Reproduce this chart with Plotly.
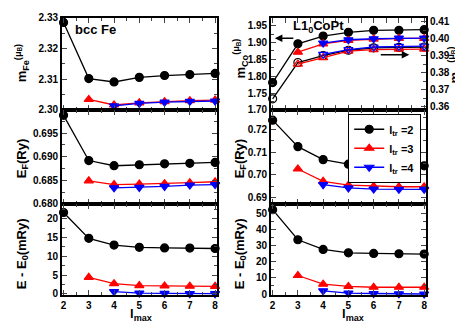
import plotly.graph_objects as go

lmax2 = [2, 3, 4, 5, 6, 7, 8]
lmax3 = [3, 4, 5, 6, 7, 8]
lmax4 = [4, 5, 6, 7, 8]

# bcc Fe
fe_m2 = [2.3285, 2.3102, 2.3091, 2.3106, 2.3112, 2.3115, 2.3119]
fe_m3 = [2.3034, 2.3016, 2.3023, 2.3027, 2.3030, 2.3032]
fe_m4 = [2.3013, 2.3021, 2.3025, 2.3028, 2.3029]
fe_ef2 = [0.6988, 0.6892, 0.6881, 0.6883, 0.6885, 0.6886, 0.6888]
fe_ef3 = [0.6849, 0.6841, 0.6842, 0.6843, 0.6845, 0.6847]
fe_ef4 = [0.6834, 0.6835, 0.6837, 0.6840, 0.6841]
fe_de2 = [21.7, 14.8, 13.0, 12.4, 12.25, 12.2, 12.1]
fe_de3 = [4.4, 2.7, 2.2, 2.1, 2.05, 2.0]
fe_de4 = [0.6, 0.2, 0.1, 0.05, 0.05]

# L1_0 CoPt
co_m2 = [1.781, 1.896, 1.919, 1.930, 1.936, 1.936, 1.938]
co_m3 = [1.871, 1.896, 1.906, 1.910, 1.912, 1.912]
co_m4 = [1.898, 1.908, 1.911, 1.913, 1.913]
pt_m2 = [0.3648, 0.3861, 0.3902, 0.3933, 0.3947, 0.3950, 0.3952]
pt_m3 = [0.3852, 0.3890, 0.3928, 0.3937, 0.3940, 0.3940]
pt_m4 = [0.3909, 0.3937, 0.3952, 0.3956, 0.3957]
cp_ef2 = [0.7240, 0.7124, 0.7067, 0.7047, 0.7041, 0.7040, 0.7040]
cp_ef3 = [0.7026, 0.6972, 0.6955, 0.6950, 0.6948, 0.6948]
cp_ef4 = [0.6957, 0.6943, 0.6938, 0.6937, 0.6937]
cp_de2 = [52.4, 33.7, 27.7, 25.6, 25.2, 25.0, 24.8]
cp_de3 = [11.5, 6.1, 4.7, 4.2, 4.2, 4.2]
cp_de4 = [2.0, 0.6, 0.3, 0.1, 0.0]

names = ["l<sub>tr</sub> =2", "l<sub>tr</sub> =3", "l<sub>tr</sub> =4"]
colors = ["black", "red", "blue"]
symbols = ["circle", "triangle-up", "triangle-down"]
xs = [lmax2, lmax3, lmax4]

W, H = 463, 322
FONT = "Liberation Sans, Arial, sans-serif"

fig = go.Figure()


def add_set(ys, xa, ya, legend=False, hollow=False):
    for i in range(3):
        sym = symbols[i] + ("-open" if hollow else "")
        fig.add_trace(go.Scatter(
            x=xs[i], y=ys[i], xaxis=xa, yaxis=ya, mode="lines+markers",
            name=names[i], showlegend=legend, cliponaxis=False,
            line=dict(color=colors[i], width=1.3),
            marker=dict(symbol=sym, size=8, color=colors[i],
                        line=dict(color=colors[i], width=1.2))))


add_set([fe_m2, fe_m3, fe_m4], "x", "y")
add_set([fe_ef2, fe_ef3, fe_ef4], "x2", "y2")
add_set([fe_de2, fe_de3, fe_de4], "x3", "y3")
add_set([co_m2, co_m3, co_m4], "x4", "y4")
add_set([pt_m2, pt_m3, pt_m4], "x4", "y7", hollow=True)
add_set([cp_ef2, cp_ef3, cp_ef4], "x5", "y5", legend=True)
add_set([cp_de2, cp_de3, cp_de4], "x6", "y6")


def px_x(a, b):
    return [a / W, b / W]


def px_y(top, bot):
    return [1 - bot / H, 1 - top / H]


tickfont = dict(family=FONT, size=10, color="black", weight="bold")


def xax(dom, anchor, labels):
    return dict(domain=dom, anchor=anchor, range=[1.93, 8.08], dtick=1,
                ticks="inside", ticklen=5, tickwidth=1, mirror="allticks",
                showline=True, linecolor="black", linewidth=1.5,
                showgrid=False, zeroline=False, showticklabels=labels,
                tickfont=tickfont,
                minor=dict(ticks="inside", dtick=0.5, ticklen=3, tickwidth=1))


def yax(dom, anchor, rng, dt, mdt, fmt, mirror="allticks"):
    return dict(domain=dom, anchor=anchor, range=rng, dtick=dt,
                ticks="inside", ticklen=5, tickwidth=1, mirror=mirror,
                showline=True, linecolor="black", linewidth=1.5,
                showgrid=False, zeroline=False, tickformat=fmt,
                tickfont=tickfont,
                minor=dict(ticks="inside", dtick=mdt, ticklen=3, tickwidth=1))


LX = px_x(53, 209)
RX = px_x(263, 419)
TOP = px_y(5, 100)
MID = px_y(100, 197)
BOT = px_y(197, 291)

layout = dict(
    width=W, height=H, margin=dict(l=0, r=0, t=0, b=0),
    paper_bgcolor="white", plot_bgcolor="white",
    font=dict(family=FONT, color="black"),
    xaxis=xax(LX, "y", False),
    xaxis2=xax(LX, "y2", False),
    xaxis3=xax(LX, "y3", True),
    xaxis4=xax(RX, "y4", False),
    xaxis5=xax(RX, "y5", False),
    xaxis6=xax(RX, "y6", True),
    yaxis=yax(TOP, "x", [2.30, 2.33], 0.01, 0.005, ".2f"),
    yaxis2=yax(MID, "x2", [0.680, 0.69995], 0.005, 0.0025, ".3f"),
    yaxis3=yax(BOT, "x3", [-0.3, 24], 5, 2.5, "d"),
    yaxis4=yax(TOP, "x4", [1.70, 1.973], 0.05, 0.025, ".2f", mirror=False),
    yaxis5=yax(MID, "x5", [0.6873, 0.7285], 0.01, 0.005, ".2f"),
    yaxis6=yax(BOT, "x6", [-0.6, 56], 10, 5, "d"),
    yaxis7=dict(yax(TOP, "x4", [0.3583, 0.4123], 0.01, 0.005, ".2f",
                    mirror=False), overlaying="y4", side="right"),
    showlegend=True,
    legend=dict(x=414 / W, y=1 - 104 / H, xanchor="right", yanchor="top",
                bordercolor="black", borderwidth=1, bgcolor="white",
                font=dict(family=FONT, size=11, weight="bold"),
                itemwidth=30, tracegroupgap=0),
)
fig.update_layout(**layout)

title_font = dict(family=FONT, size=13, color="black", weight="bold")


def label(text, x, y, angle=0):
    fig.add_annotation(text=text, x=x / W, y=1 - y / H, xref="paper",
                       yref="paper", xanchor="center", yanchor="middle",
                       showarrow=False, textangle=angle, font=title_font)


mu = "<sup>(μ<sub>B</sub>)</sup>"
label("m<sub>Fe</sub>" + mu, 13, 52, -90)
label("E<sub>F</sub>(Ry)", 13, 150, -90)
label("E - E<sub>0</sub>(mRy)", 13, 248, -90)
label("m<sub>Co</sub>" + mu, 232, 47, -90)
label("E<sub>F</sub>(Ry)", 232, 150, -90)
label("E - E<sub>0</sub>(mRy)", 232, 248, -90)
label("m<sub>Pt</sub>" + mu, 448, 54, -90)

label("l<sub>max</sub>", 133, 311)
label("l<sub>max</sub>", 345, 311)
label("bcc Fe", 87, 17)
label("L1<sub>0</sub>CoPt", 311, 14)

# arrows pointing to the axis each curve set belongs to
fig.add_annotation(x=267 / W, y=1 - 26 / H, xref="paper", yref="paper",
                   ax=20, ay=0, text="", showarrow=True, arrowhead=2,
                   arrowsize=1, arrowwidth=1.5, arrowcolor="black")
fig.add_annotation(x=402 / W, y=1 - 43 / H, xref="paper", yref="paper",
                   ax=-30, ay=0, text="", showarrow=True, arrowhead=2,
                   arrowsize=1, arrowwidth=1.5, arrowcolor="black")

fig.write_html("out.html")
